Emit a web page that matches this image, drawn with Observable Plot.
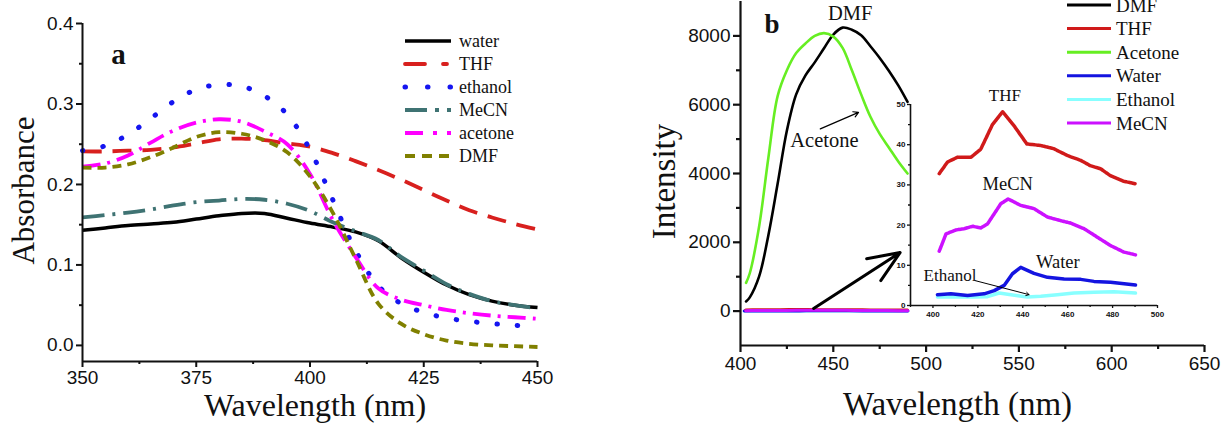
<!DOCTYPE html>
<html><head><meta charset="utf-8">
<script src="https://cdn.jsdelivr.net/npm/d3@7"></script>
<script src="https://cdn.jsdelivr.net/npm/@observablehq/plot@0.6"></script>
<style>
body{margin:0;background:#fff}
#root{position:relative;width:1222px;height:423px;overflow:hidden;background:#fff}
#root svg{position:absolute;max-width:none}
</style></head><body><div id="root"></div>
<script>
// ---------- Panel a: absorbance ----------
const absWl = [350,355,360,365,370,375,380,385,390,395,400,405,410,415,420,425,430,435,440,445,450];
const absWater   = [0.143,0.146,0.149,0.151,0.153,0.157,0.161,0.164,0.164,0.158,0.152,0.147,0.141,0.130,0.109,0.091,0.075,0.063,0.055,0.050,0.047];
const absTHF     = [0.241,0.241,0.242,0.243,0.246,0.251,0.256,0.257,0.255,0.251,0.247,0.239,0.229,0.218,0.206,0.193,0.180,0.168,0.159,0.151,0.144];
const absEthanol = [0.242,0.248,0.262,0.282,0.303,0.318,0.324,0.322,0.310,0.287,0.243,0.181,0.118,0.074,0.052,0.041,0.034,0.030,0.027,0.025,0.023];
const absMeCN    = [0.159,0.162,0.165,0.169,0.174,0.178,0.180,0.182,0.181,0.176,0.167,0.153,0.142,0.131,0.110,0.093,0.076,0.064,0.055,0.050,0.046];
const absAcetone = [0.222,0.226,0.236,0.252,0.267,0.277,0.281,0.278,0.266,0.250,0.213,0.156,0.110,0.071,0.057,0.050,0.044,0.040,0.037,0.035,0.033];
const absDMF     = [0.221,0.221,0.225,0.234,0.246,0.259,0.265,0.263,0.255,0.240,0.210,0.165,0.108,0.052,0.027,0.014,0.006,0.002,0.000,-0.001,-0.002];
const absNames = ["water","THF","ethanol","MeCN","acetone","DMF"];
const absValues = [absWater,absTHF,absEthanol,absMeCN,absAcetone,absDMF];
const absXTicks = [350,375,400,425,450];
const absXMinor = [362.5,387.5,412.5,437.5];
const absYTicks = [0,0.1,0.2,0.3,0.4];
const absYMinor = [0.05,0.15,0.25,0.35];
const annA = [{label:"a", wl:357.9, v:0.3615}];

// ---------- Panel b: fluorescence ----------
const flWl = [403,405,410,415,420,425,430,435,440,445,450,455,460,465,470,475,480,485,490];
const flDMF     = [280,400,1000,2200,3700,5250,6300,6850,7230,7640,8040,8240,8180,8020,7700,7360,6980,6560,6080];
const flAcetone = [820,1100,2450,4450,6250,7000,7500,7780,8000,8080,7980,7650,7000,6300,5650,5150,4750,4350,4000];
const thfWl = [402.8,406.5,411,417,421.3,426.5,431,436,441.8,448,453.8,459.9,465.8,470,474.7,479,484.9,490];
const thfI  = [32.8,35.7,36.9,36.9,38.9,45,48.2,44.8,40.2,39.8,39,37.3,36.1,34.8,34,32.3,30.9,30.3];
const mecnWl = [402.8,405.8,410.2,413.9,417.6,421.3,424.3,430.2,433.5,439.1,445,451,456.9,461.3,467.3,473.2,479.1,485,490.2];
const mecnI  = [13.5,17.8,18.8,19.1,19.7,19.3,20.3,25.3,26.5,24.9,24.1,22,21.1,20.5,19.1,17,14.9,13.3,12.6];
const waterWl = [402,408,415.4,422.8,427.3,431.7,435.4,439.1,445,451,458.4,465.8,471.7,479.1,490.2];
const waterI  = [2.7,2.9,2.5,2.9,3.7,5,7.9,9.5,8,7,6.6,6.5,6,5.8,5.1];
const ethWl = [402,409.5,418.4,424.3,429.5,434.7,442,448,455.4,462.8,471.7,480.6,490.2];
const ethI  = [2.1,2.1,2.1,2.2,3.1,2.7,2.1,2.3,2.7,3.1,3.3,3.4,3.1];
const flNames = ["DMF","THF","Acetone","Water","Ethanol","MeCN"];
const flXTicks = [400,450,500,550,600,650];
const flXMinor = [425,475,525,575,625];
const flYTicks = [0,2000,4000,6000,8000];
const flYMinor = [1000,3000,5000,7000];
const annBTag = [{label:"b", wl:417, v:8339}];
const annB = [{label:"DMF", wl:459.1, v:8667}, {label:"Acetone", wl:445.2, v:4957}];
const arrowBig = [{x1:439.4, y1:78, x2:486, y2:1701}];
const arrowAcetone = [{x1:443, y1:5296, x2:463.6, y2:5777}];
// inset
const inXTicks = [400,420,440,460,480,500];
const inXMinor = [390,410,430,450,470,490];
const inYTicks = [0,10,20,30,40,50];
const inYMinor = [5,15,25,35,45];
const annIn = [{label:"THF", wl:432, v:52.2, size:17},
               {label:"MeCN", wl:433.3, v:30.3, size:18.5},
               {label:"Water", wl:455.6, v:10.9, size:18.5},
               {label:"Ethanol", wl:407.6, v:7.5, size:17}];
const arrowsIn = [{x1:418.7, y1:6.2, x2:442.8, y2:2.7}];

// ---------- styles ----------
const SERIF = "'Liberation Serif','Times New Roman',Times,serif";
const SANS = "'Liberation Sans',Arial,sans-serif";
const absStyle = {
  water:   {stroke:"#000000", dash:null, cap:"butt", w:3.5},
  THF:     {stroke:"#d8201e", dash:"19,11", cap:"butt", w:3.8},
  ethanol: {stroke:"#1515f0", dash:"0.5,20", cap:"round", w:5},
  MeCN:    {stroke:"#3f7373", dash:"22,8,3,8", cap:"butt", w:3.8},
  acetone: {stroke:"#ff00ff", dash:"18,7,3,7", cap:"butt", w:3.8},
  DMF:     {stroke:"#808000", dash:"9,6", cap:"butt", w:3.8}
};
const absLegendDash = {water:null, THF:"20,18,4,18", ethanol:"0.5,22", MeCN:"22,8,4,8", acetone:"18,10,4,10", DMF:"10,7"};
const flColor = {DMF:"#000000", THF:"#d01a1a", Acetone:"#66ee22", Water:"#1414e0", Ethanol:"#88ffff", MeCN:"#cc11ff"};

const root = document.getElementById("root");
function place(svg, left, top){ svg.style.left = left+"px"; svg.style.top = top+"px"; root.appendChild(svg); return svg; }

// ---------- Panel a ----------
const plotA = Plot.plot({
  width:600, height:423, marginLeft:82, marginRight:63, marginTop:23, marginBottom:62,
  x:{domain:[350,450]}, y:{domain:[-0.02,0.4]},
  style:{background:"none", fontFamily:SANS, fontSize:"19px", color:"#111", overflow:"visible"},
  marks:[
    ...absNames.map((n,k)=>Plot.line(absWl.map((w,i)=>({wl:w, v:absValues[k][i]})),
      {x:"wl", y:"v", stroke:absStyle[n].stroke, strokeWidth:absStyle[n].w,
       strokeDasharray:absStyle[n].dash, strokeLinecap:absStyle[n].cap, curve:"catmull-rom"})),
    Plot.ruleX([350], {strokeWidth:2}),
    Plot.ruleY([-0.02], {strokeWidth:2}),
    Plot.axisX({ticks:absXTicks, tickSize:6, tickPadding:3, strokeWidth:2, label:null, tickFormat:d=>String(d)}),
    Plot.axisX({ticks:absXMinor, tickSize:3, strokeWidth:2, label:null, tickFormat:()=>""}),
    Plot.axisY({ticks:absYTicks, tickSize:6, tickPadding:3, strokeWidth:2, label:null, tickFormat:d=>d.toFixed(1)}),
    Plot.axisY({ticks:absYMinor, tickSize:3, strokeWidth:2, label:null, tickFormat:()=>""}),
    Plot.text(annA, {x:"wl", y:"v", text:"label", fontFamily:SERIF, fontWeight:"bold", fontSize:29}),
    Plot.text(["Absorbance"], {frameAnchor:"left", textAnchor:"middle", lineAnchor:"middle", text:d=>d, rotate:-90, dx:-58, dy:-2, fontFamily:SERIF, fontSize:31}),
    Plot.text(["Wavelength (nm)"], {frameAnchor:"bottom", textAnchor:"middle", lineAnchor:"middle", text:d=>d, dx:5, dy:44, fontFamily:SERIF, fontSize:32})
  ]
});
place(plotA, 0, 0);
// legend a
{
  const g = d3.select(plotA).append("g").attr("text-anchor","start");
  absNames.forEach((n,i)=>{
    const y = 41 + i*23;
    g.append("line").attr("x1",405).attr("x2",451).attr("y1",y).attr("y2",y)
      .attr("stroke",absStyle[n].stroke).attr("stroke-width",absStyle[n].w)
      .attr("stroke-dasharray",absLegendDash[n])
      .attr("stroke-linecap",(n==="ethanol"||n==="THF")?"round":"butt");
    g.append("text").attr("x",459).attr("y",y).attr("dy","0.35em").attr("font-family",SERIF)
      .attr("font-size",18).attr("fill","#111").text(n);
  });
}

// ---------- Panel b ----------
const rowsOf = (wl, vals) => wl.map((w,i)=>({wl:w, v:vals[i]}));
const plotB = Plot.plot({
  width:622, height:423, marginLeft:140, marginRight:18, marginTop:1, marginBottom:78,
  x:{domain:[400,650]}, y:{domain:[-1000,9000]},
  style:{background:"none", fontFamily:SANS, fontSize:"19px", color:"#111", overflow:"visible"},
  marks:[
    Plot.line(rowsOf(flWl, flDMF), {x:"wl", y:"v", stroke:flColor.DMF, strokeWidth:2.6, curve:"catmull-rom"}),
    Plot.line(rowsOf(flWl, flAcetone), {x:"wl", y:"v", stroke:flColor.Acetone, strokeWidth:2.6, curve:"catmull-rom"}),
    Plot.line(rowsOf(ethWl, ethI), {x:"wl", y:"v", stroke:flColor.Ethanol, strokeWidth:3}),
    Plot.line(rowsOf(waterWl, waterI), {x:"wl", y:"v", stroke:flColor.Water, strokeWidth:3}),
    Plot.line(rowsOf(thfWl, thfI), {x:"wl", y:"v", stroke:flColor.THF, strokeWidth:3}),
    Plot.line(rowsOf(mecnWl, mecnI), {x:"wl", y:"v", stroke:flColor.MeCN, strokeWidth:3}),
    Plot.ruleX([400], {strokeWidth:2.2}),
    Plot.ruleY([-1000], {strokeWidth:2.2}),
    Plot.axisX({ticks:flXTicks, tickSize:7, tickPadding:4, strokeWidth:2.2, label:null, tickFormat:d=>String(d)}),
    Plot.axisX({ticks:flXMinor, tickSize:4, strokeWidth:2.2, label:null, tickFormat:()=>""}),
    Plot.axisY({ticks:flYTicks, tickSize:7, tickPadding:3, strokeWidth:2.2, label:null, tickFormat:d=>String(d)}),
    Plot.axisY({ticks:flYMinor, tickSize:4, strokeWidth:2.2, label:null, tickFormat:()=>""}),
    Plot.arrow(arrowBig, {x1:"x1", y1:"y1", x2:"x2", y2:"y2", strokeWidth:3, headLength:17, headAngle:45, stroke:"#000"}),
    Plot.arrow(arrowAcetone, {x1:"x1", y1:"y1", x2:"x2", y2:"y2", strokeWidth:1.2, headLength:7, stroke:"#000"}),
    Plot.text(annBTag, {x:"wl", y:"v", text:"label", fontFamily:SERIF, fontWeight:"bold", fontSize:27}),
    Plot.text(annB, {x:"wl", y:"v", text:"label", fontFamily:SERIF, fontSize:20.5}),
    Plot.text(["Intensity"], {frameAnchor:"left", textAnchor:"middle", lineAnchor:"middle", text:d=>d, rotate:-90, dx:-76, dy:8, fontFamily:SERIF, fontSize:33}),
    Plot.text(["Wavelength (nm)"], {frameAnchor:"bottom", textAnchor:"middle", lineAnchor:"middle", text:d=>d, dx:-15, dy:59, fontFamily:SERIF, fontSize:33})
  ]
});
place(plotB, 600, 0);
// legend b
{
  const g = d3.select(plotB).append("g").attr("text-anchor","start");
  flNames.forEach((n,i)=>{
    const y = 5 + i*23.6;
    g.append("line").attr("x1",467).attr("x2",511).attr("y1",y).attr("y2",y)
      .attr("stroke",flColor[n]).attr("stroke-width",3);
    g.append("text").attr("x",516).attr("y",y).attr("dy","0.35em").attr("font-family",SERIF)
      .attr("font-size",19).attr("fill","#111").text(n);
  });
}

// ---------- Inset ----------
const plotIn = Plot.plot({
  width:280, height:255, marginLeft:20, marginRight:13, marginTop:34, marginBottom:20,
  x:{domain:[390,500]}, y:{domain:[0,50]},
  style:{background:"none", fontFamily:SANS, fontSize:"8px", fontWeight:"bold", color:"#111", overflow:"visible"},
  marks:[
    Plot.line(rowsOf(ethWl, ethI), {x:"wl", y:"v", stroke:flColor.Ethanol, strokeWidth:3.5}),
    Plot.line(rowsOf(waterWl, waterI), {x:"wl", y:"v", stroke:flColor.Water, strokeWidth:3.5}),
    Plot.line(rowsOf(thfWl, thfI), {x:"wl", y:"v", stroke:flColor.THF, strokeWidth:3.5, strokeDasharray:"2.5,0.7"}),
    Plot.line(rowsOf(mecnWl, mecnI), {x:"wl", y:"v", stroke:flColor.MeCN, strokeWidth:3.5, strokeDasharray:"2.5,0.7"}),
    Plot.ruleX([390], {strokeWidth:1.6}),
    Plot.ruleY([0], {strokeWidth:1.6}),
    Plot.axisX({ticks:inXTicks, tickSize:3, tickPadding:3, strokeWidth:1.3, label:null, tickFormat:d=>String(d)}),
    Plot.axisX({ticks:inXMinor, tickSize:2, strokeWidth:1.3, label:null, tickFormat:()=>""}),
    Plot.axisY({ticks:inYTicks, tickSize:3, tickPadding:2, strokeWidth:1.3, label:null, tickFormat:d=>String(d)}),
    Plot.axisY({ticks:inYMinor, tickSize:2, strokeWidth:1.3, label:null, tickFormat:()=>""}),
    Plot.arrow(arrowsIn, {x1:"x1", y1:"y1", x2:"x2", y2:"y2", strokeWidth:1, headLength:5, stroke:"#000"}),
    Plot.text(annIn, {x:"wl", y:"v", text:"label", fontFamily:SERIF, fontWeight:"normal", fontSize:d=>d.size})
  ]
});
place(plotIn, 890, 70);
</script></body></html>
